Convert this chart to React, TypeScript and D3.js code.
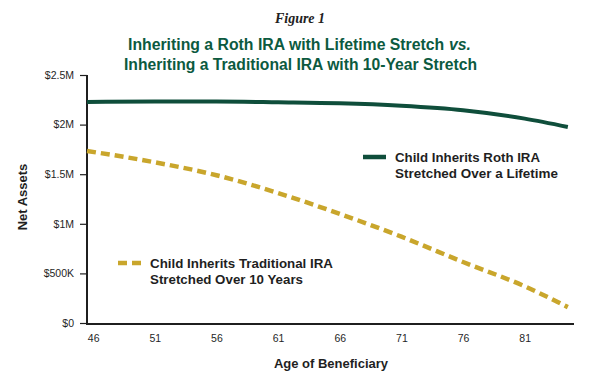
import { useRef, useEffect } from 'react';
import * as d3 from 'd3';

// Age of beneficiary (plot starts just before 46 and stops before 85)
const ages = [45.5, 51, 56, 61, 66, 71, 76, 81, 84.5];
// Net assets in $M
const rothValues = [2.228, 2.232, 2.232, 2.225, 2.215, 2.19, 2.145, 2.06, 1.976];
const traditionalValues = [1.734, 1.62, 1.49, 1.31, 1.1, 0.87, 0.615, 0.37, 0.16];

const xTicks = [46, 51, 56, 61, 66, 71, 76, 81];
const yTicks = [0, 0.5, 1, 1.5, 2, 2.5];
const yTickLabels = ['$0', '$500K', '$1M', '$1.5M', '$2M', '$2.5M'];

const GREEN = '#0f4e3b';
const TITLE_GREEN = '#0c5a3f';
const GOLD = '#c9a62c';
const INK = '#1f1f1f';
const SANS = 'Liberation Sans, Arial, Helvetica, sans-serif';

export default function App() {
  const svgRef = useRef<SVGSVGElement>(null);

  useEffect(() => {
    if (!svgRef.current) return;
    document.body.style.margin = '0';

    const width = 598;
    const height = 387;
    const svg = d3.select(svgRef.current);
    svg.selectAll('*').remove();
    svg.attr('width', width).attr('height', height);

    svg.append('rect').attr('width', width).attr('height', height).attr('fill', '#fff');

    const x = d3.scaleLinear().domain([45.5, 85]).range([87, 574]);
    const y = d3.scaleLinear().domain([0, 2.5]).range([323, 75]);

    // Figure label + title
    svg.append('text')
      .attr('x', 300).attr('y', 23)
      .attr('text-anchor', 'middle')
      .attr('font-family', 'Liberation Serif, Times New Roman, serif')
      .attr('font-style', 'italic')
      .attr('font-weight', 600)
      .attr('font-size', 14)
      .attr('fill', '#222')
      .text('Figure 1');

    const titleStyle = (sel: d3.Selection<SVGTextElement, unknown, null, undefined>) =>
      sel.attr('font-family', SANS)
        .attr('font-weight', 700)
        .attr('font-size', 15.8)
        .attr('fill', TITLE_GREEN);

    svg.append('text')
      .attr('x', 128).attr('y', 50)
      .call(titleStyle)
      .text('Inheriting a Roth IRA with Lifetime Stretch');
    svg.append('text')
      .attr('x', 449).attr('y', 50)
      .call(titleStyle)
      .attr('font-style', 'italic')
      .text('vs.');

    svg.append('text')
      .attr('x', 124).attr('y', 70)
      .call(titleStyle)
      .attr('textLength', 353)
      .attr('lengthAdjust', 'spacingAndGlyphs')
      .text('Inheriting a Traditional IRA with 10-Year Stretch');

    // Y axis
    const yAxis = d3.axisLeft(y)
      .tickValues(yTicks)
      .tickSize(7)
      .tickPadding(6)
      .tickFormat((_, i) => yTickLabels[i]);
    const gy = svg.append('g').attr('transform', 'translate(87,0)').call(yAxis);
    gy.select('.domain').remove();
    gy.selectAll('.tick line').attr('stroke', INK).attr('stroke-width', 1.2);
    gy.selectAll('.tick text')
      .attr('fill', INK)
      .attr('font-family', SANS)
      .attr('font-size', 10.5);

    // X axis (labels only)
    const xAxis = d3.axisBottom(x).tickValues(xTicks).tickSize(0).tickPadding(11);
    const gx = svg.append('g').attr('transform', 'translate(0,324)').call(xAxis);
    gx.select('.domain').remove();
    gx.selectAll('.tick text')
      .attr('fill', INK)
      .attr('font-family', SANS)
      .attr('font-size', 10.5);

    // Axis lines
    svg.append('line')
      .attr('x1', 87).attr('x2', 87).attr('y1', y(2.5)).attr('y2', 324)
      .attr('stroke', INK).attr('stroke-width', 2);
    svg.append('line')
      .attr('x1', 86).attr('x2', x(85)).attr('y1', 324).attr('y2', 324)
      .attr('stroke', INK).attr('stroke-width', 2);

    // Axis titles
    svg.append('text')
      .attr('transform', 'translate(27,197) rotate(-90)')
      .attr('text-anchor', 'middle')
      .attr('font-family', SANS)
      .attr('font-weight', 700)
      .attr('font-size', 13)
      .attr('fill', INK)
      .text('Net Assets');

    svg.append('text')
      .attr('x', 331).attr('y', 368)
      .attr('text-anchor', 'middle')
      .attr('font-family', SANS)
      .attr('font-weight', 700)
      .attr('font-size', 13)
      .attr('fill', INK)
      .text('Age of Beneficiary');

    // Series
    const line = d3.line<number>()
      .x((_, i) => x(ages[i]))
      .y((d) => y(d))
      .curve(d3.curveMonotoneX);

    svg.append('path')
      .datum(traditionalValues)
      .attr('d', line)
      .attr('fill', 'none')
      .attr('stroke', GOLD)
      .attr('stroke-width', 4.5)
      .attr('stroke-dasharray', '9,5');

    svg.append('path')
      .datum(rothValues)
      .attr('d', line)
      .attr('fill', 'none')
      .attr('stroke', GREEN)
      .attr('stroke-width', 4);

    // Legends
    const legend = (
      lx: number, ly: number, color: string, dashed: boolean,
      lines: string[], lengths: number[],
    ) => {
      svg.append('line')
        .attr('x1', lx).attr('x2', lx + 23)
        .attr('y1', ly).attr('y2', ly)
        .attr('stroke', color)
        .attr('stroke-width', 4.5)
        .attr('stroke-dasharray', dashed ? '9,5' : null);
      lines.forEach((txt, i) => {
        svg.append('text')
          .attr('x', lx + 32).attr('y', ly + 5 + i * 16)
          .attr('font-family', SANS)
          .attr('font-weight', 700)
          .attr('font-size', 13)
          .attr('fill', INK)
          .attr('textLength', lengths[i])
          .attr('lengthAdjust', 'spacingAndGlyphs')
          .text(txt);
      });
    };

    legend(363, 157, GREEN, false,
      ['Child Inherits Roth IRA', 'Stretched Over a Lifetime'], [145, 163]);
    legend(118, 263, GOLD, true,
      ['Child Inherits Traditional IRA', 'Stretched Over 10 Years'], [183, 153]);
  }, []);

  return <svg ref={svgRef} style={{ display: 'block' }} />;
}
